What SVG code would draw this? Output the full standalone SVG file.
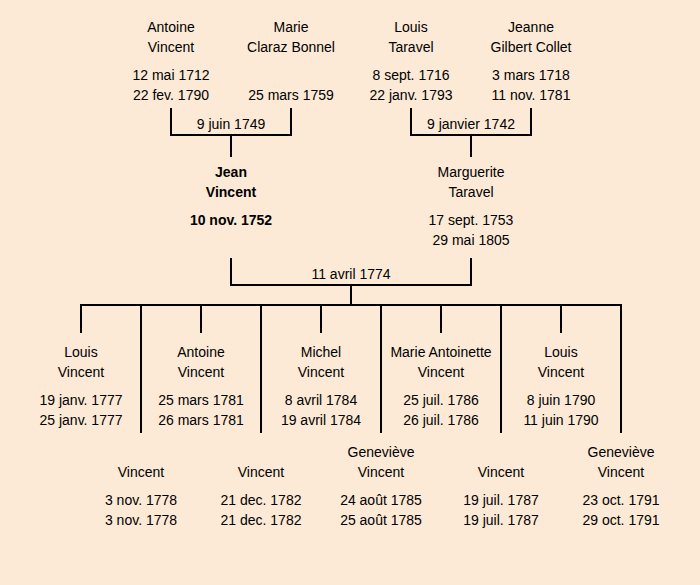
<svg xmlns="http://www.w3.org/2000/svg" width="700" height="585" viewBox="0 0 700 585">
<style>
text{font-family:"Comic Sans MS","Liberation Sans","DejaVu Sans",sans-serif;font-size:14px;fill:#000;text-anchor:middle}
.b{font-weight:bold}
.c{fill:none;stroke:#000;stroke-width:2;stroke-linecap:square}
</style>
<rect width="700" height="585" fill="#FCEAD6"/>
<g id="connectors" class="c">
<path d="M171 109V135H291V109M231 135V156"/>
<path d="M411 109V135H531V109M471 135V156"/>
<path d="M231 259V285H471V259M351 285V305"/>
<path d="M81 305H621"/>
<path d="M81 305V332M201 305V332M321 305V332M441 305V332M561 305V332"/>
<path d="M141 305V432M261 305V432M381 305V432M501 305V432M621 305V432"/>
</g>
<g id="labels">
<text x="231" y="129">9 juin 1749</text>
<text x="471" y="129">9 janvier 1742</text>
<text x="351" y="279">11 avril 1774</text>
</g>
<g id="antoine-vincent"><text x="171" y="32">Antoine</text><text x="171" y="52">Vincent</text><text x="171" y="80">12 mai 1712</text><text x="171" y="100">22 fev. 1790</text></g>
<g id="marie-claraz-bonnel"><text x="291" y="32">Marie</text><text x="291" y="52">Claraz Bonnel</text><text x="291" y="100">25 mars 1759</text></g>
<g id="louis-taravel"><text x="411" y="32">Louis</text><text x="411" y="52">Taravel</text><text x="411" y="80">8 sept. 1716</text><text x="411" y="100">22 janv. 1793</text></g>
<g id="jeanne-gilbert-collet"><text x="531" y="32">Jeanne</text><text x="531" y="52">Gilbert Collet</text><text x="531" y="80">3 mars 1718</text><text x="531" y="100">11 nov. 1781</text></g>
<g id="jean-vincent" class="b"><text x="231" y="177" class="b">Jean</text><text x="231" y="197" class="b">Vincent</text><text x="231" y="225" class="b">10 nov. 1752</text></g>
<g id="marguerite-taravel"><text x="471" y="177">Marguerite</text><text x="471" y="197">Taravel</text><text x="471" y="225">17 sept. 1753</text><text x="471" y="245">29 mai 1805</text></g>
<g id="louis-vincent-1777"><text x="81" y="357">Louis</text><text x="81" y="377">Vincent</text><text x="81" y="405">19 janv. 1777</text><text x="81" y="425">25 janv. 1777</text></g>
<g id="vincent-1778"><text x="141" y="477">Vincent</text><text x="141" y="505">3 nov. 1778</text><text x="141" y="525">3 nov. 1778</text></g>
<g id="antoine-vincent-1781"><text x="201" y="357">Antoine</text><text x="201" y="377">Vincent</text><text x="201" y="405">25 mars 1781</text><text x="201" y="425">26 mars 1781</text></g>
<g id="vincent-1782"><text x="261" y="477">Vincent</text><text x="261" y="505">21 dec. 1782</text><text x="261" y="525">21 dec. 1782</text></g>
<g id="michel-vincent"><text x="321" y="357">Michel</text><text x="321" y="377">Vincent</text><text x="321" y="405">8 avril 1784</text><text x="321" y="425">19 avril 1784</text></g>
<g id="genevieve-vincent-1785"><text x="381" y="457">Geneviève</text><text x="381" y="477">Vincent</text><text x="381" y="505">24 août 1785</text><text x="381" y="525">25 août 1785</text></g>
<g id="marie-antoinette-vincent"><text x="441" y="357">Marie Antoinette</text><text x="441" y="377">Vincent</text><text x="441" y="405">25 juil. 1786</text><text x="441" y="425">26 juil. 1786</text></g>
<g id="vincent-1787"><text x="501" y="477">Vincent</text><text x="501" y="505">19 juil. 1787</text><text x="501" y="525">19 juil. 1787</text></g>
<g id="louis-vincent-1790"><text x="561" y="357">Louis</text><text x="561" y="377">Vincent</text><text x="561" y="405">8 juin 1790</text><text x="561" y="425">11 juin 1790</text></g>
<g id="genevieve-vincent-1791"><text x="621" y="457">Geneviève</text><text x="621" y="477">Vincent</text><text x="621" y="505">23 oct. 1791</text><text x="621" y="525">29 oct. 1791</text></g>
</svg>
